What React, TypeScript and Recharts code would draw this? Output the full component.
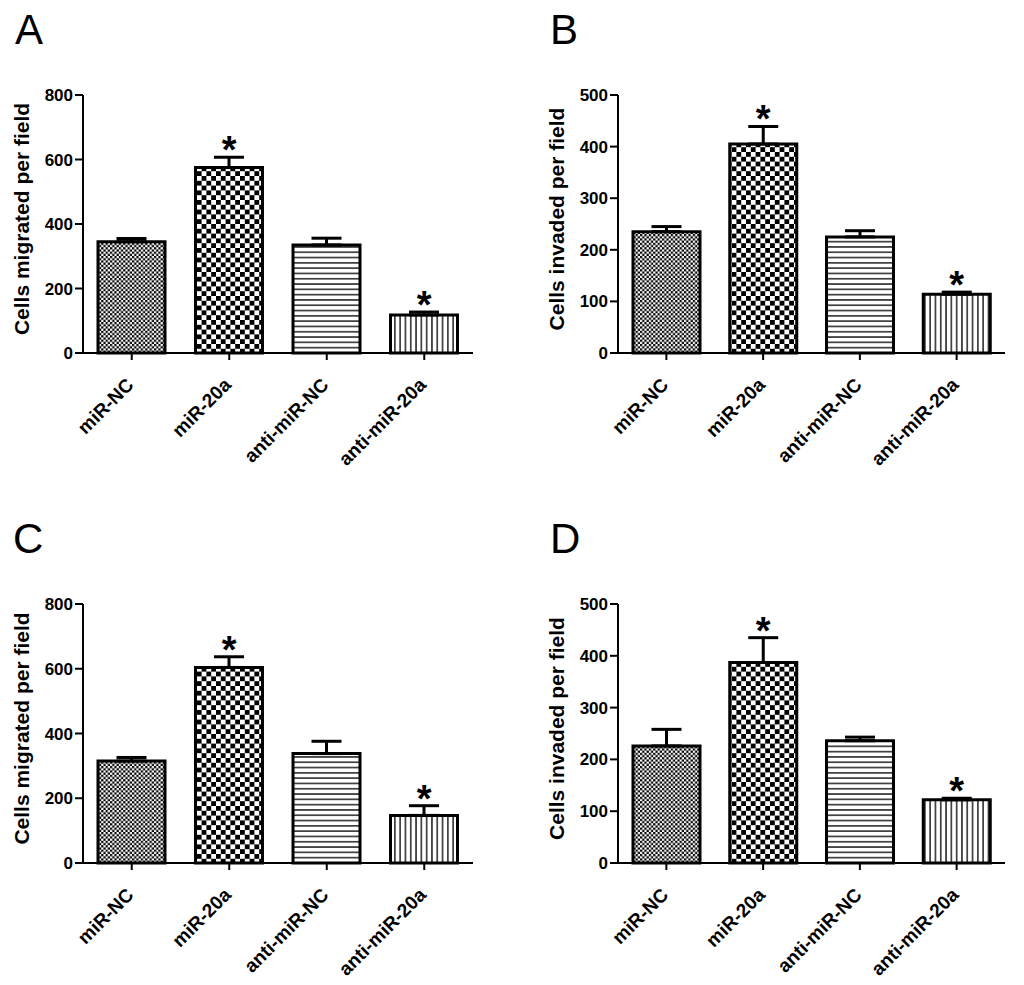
import React from 'react'
import { ComposedChart, Bar, Cell, ErrorBar, XAxis, YAxis, ReferenceDot } from 'recharts'

const FONT = '"Liberation Sans", Arial, sans-serif'

const categories = ['miR-NC', 'miR-20a', 'anti-miR-NC', 'anti-miR-20a']
const significant = [false, true, false, true]

const migratedA = [345, 575, 335, 118]
const migratedAErr = [10, 32, 21, 9]
const invadedB = [235, 405, 225, 114]
const invadedBErr = [10, 34, 12, 4]
const migratedC = [315, 604, 338, 147]
const migratedCErr = [11, 33, 38, 30]
const invadedD = [226, 387, 236, 122]
const invadedDErr = [32, 48, 7, 3]

const migratedTicks = [0, 200, 400, 600, 800]
const invadedTicks = [0, 100, 200, 300, 400, 500]

const fills = ['fine', 'coarse', 'hlines', 'vlines']

function AngledTick({ x, y, payload }: any) {
  return (
    <g transform={`translate(${x + 3},${y + 24})`}>
      <text textAnchor="end" transform="rotate(-45)" fill="#000" fontSize={19} fontWeight="bold" fontFamily={FONT}>
        {payload.value}
      </text>
    </g>
  )
}

function YLabel({ viewBox, text }: any) {
  const { x, y, width, height } = viewBox
  const cx = x + width - 54
  const cy = y + height / 2 - 5
  return (
    <text
      x={cx}
      y={cy}
      transform={`rotate(-90 ${cx} ${cy})`}
      textAnchor="middle"
      fill="#000"
      fontSize={21}
      fontWeight="bold"
      fontFamily={FONT}
    >
      {text}
    </text>
  )
}

const Star = ({ cx, cy }: any) => (
  <text x={cx} y={cy + 6} textAnchor="middle" fontSize={38} fontWeight="bold" fontFamily={FONT} fill="#000">
    *
  </text>
)

interface PanelProps {
  id: string
  left: number
  top: number
  marginTop: number
  marginRight: number
  axisWidth: number
  values: number[]
  errors: number[]
  ticks: number[]
  yLabel: string
}

function Panel({ id, left, top, marginTop, marginRight, axisWidth, values, errors, ticks, yLabel }: PanelProps) {
  const data = categories.map((name, i) => ({ name, value: values[i], err: [0, errors[i]] }))
  const max = ticks[ticks.length - 1]
  const axisStyle = { stroke: '#000', strokeWidth: 2 }

  return (
    <div style={{ position: 'absolute', left, top }}>
      <ComposedChart
        width={490}
        height={390}
        data={data}
        margin={{ top: marginTop, right: marginRight, left: 0, bottom: 7 }}
      >
        <defs>
          <pattern id={`${id}-fine`} width={4.4} height={4.4} patternUnits="userSpaceOnUse">
            <rect width={4.4} height={4.4} fill="#fff" />
            <rect width={2.2} height={2.2} fill="#000" />
            <rect x={2.2} y={2.2} width={2.2} height={2.2} fill="#000" />
          </pattern>
          <pattern id={`${id}-coarse`} width={9.6} height={9.6} patternUnits="userSpaceOnUse">
            <rect width={9.6} height={9.6} fill="#fff" />
            <rect width={4.8} height={4.8} fill="#000" />
            <rect x={4.8} y={4.8} width={4.8} height={4.8} fill="#000" />
          </pattern>
          <pattern id={`${id}-hlines`} width={8} height={5.3} patternUnits="userSpaceOnUse">
            <rect width={8} height={5.3} fill="#fff" />
            <rect y={2} width={8} height={1.3} fill="#000" />
          </pattern>
          <pattern id={`${id}-vlines`} width={5.3} height={8} patternUnits="userSpaceOnUse">
            <rect width={5.3} height={8} fill="#fff" />
            <rect x={2} width={1.3} height={8} fill="#000" />
          </pattern>
        </defs>
        <XAxis
          dataKey="name"
          interval={0}
          height={110}
          tickSize={7}
          tickMargin={2}
          axisLine={axisStyle}
          tickLine={axisStyle}
          tick={<AngledTick />}
        />
        <YAxis
          width={axisWidth}
          domain={[0, max]}
          ticks={ticks}
          tickSize={8}
          tickMargin={2}
          axisLine={axisStyle}
          tickLine={axisStyle}
          tick={{ fill: '#000', fontSize: 17, fontWeight: 'bold', fontFamily: FONT }}
          label={<YLabel text={yLabel} />}
        />
        <Bar dataKey="value" barSize={67} stroke="#000" strokeWidth={3} isAnimationActive={false}>
          {data.map((d, i) => (
            <Cell key={d.name} fill={`url(#${id}-${fills[i]})`} />
          ))}
          <ErrorBar dataKey="err" direction="y" width={15} stroke="#000" strokeWidth={3} isAnimationActive={false} />
        </Bar>
        {data.map((d, i) =>
          significant[i] ? (
            <ReferenceDot key={d.name} x={d.name} y={d.value + errors[i]} r={0} shape={Star} ifOverflow="visible" />
          ) : null
        )}
      </ComposedChart>
    </div>
  )
}

export default function App() {
  const letterStyle = { fontFamily: FONT, fontSize: 42, fill: '#000' }
  return (
    <div style={{ position: 'absolute', left: 0, top: 0, width: 1024, height: 985, background: '#fff' }}>
      <svg width={1024} height={985} style={{ position: 'absolute', left: 0, top: 0 }}>
        <text x={15} y={44} {...letterStyle}>A</text>
        <text x={550} y={44} {...letterStyle}>B</text>
        <text x={13} y={553} {...letterStyle}>C</text>
        <text x={550} y={553} {...letterStyle}>D</text>
      </svg>
      <Panel
        id="a"
        left={0}
        top={80}
        marginTop={15}
        marginRight={17}
        axisWidth={83}
        values={migratedA}
        errors={migratedAErr}
        ticks={migratedTicks}
        yLabel="Cells migrated per field"
      />
      <Panel
        id="b"
        left={530}
        top={80}
        marginTop={15}
        marginRight={15}
        axisWidth={88}
        values={invadedB}
        errors={invadedBErr}
        ticks={invadedTicks}
        yLabel="Cells invaded per field"
      />
      <Panel
        id="c"
        left={0}
        top={590}
        marginTop={14}
        marginRight={17}
        axisWidth={83}
        values={migratedC}
        errors={migratedCErr}
        ticks={migratedTicks}
        yLabel="Cells migrated per field"
      />
      <Panel
        id="d"
        left={530}
        top={590}
        marginTop={14}
        marginRight={15}
        axisWidth={88}
        values={invadedD}
        errors={invadedDErr}
        ticks={invadedTicks}
        yLabel="Cells invaded per field"
      />
    </div>
  )
}
